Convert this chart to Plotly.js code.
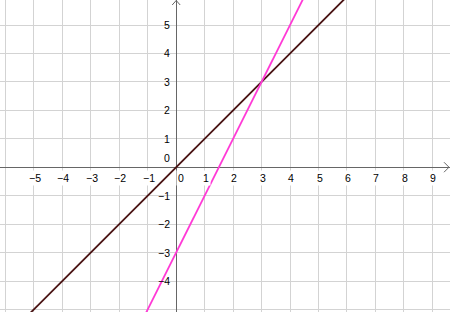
<!DOCTYPE html>
<html><head><meta charset="utf-8">
<script src="https://cdn.plot.ly/plotly-3.0.1.min.js"></script>
<style>html,body{margin:0;padding:0;background:#fff}#c{width:450px;height:312px}</style>
</head><body><div id="c"></div>
<script>
// Line 1: y = x (dark brown)
const line1X = [-6.5, 10];
const line1Y = [-6.5, 10];
// Line 2: y = 2x - 3 (magenta)
const line2X = [-1.5, 5];
const line2Y = [-6, 7];
// Tick labels
const xTicks = [-5, -4, -3, -2, -1, 0, 1, 2, 3, 4, 5, 6, 7, 8, 9];
const yTicks = [-4, -3, -2, -1, 0, 1, 2, 3, 4, 5];

const xRange = [-6.19, 9.62];
const yRange = [-5.09, 5.88];

const fmt = v => v < 0 ? '\u2212' + Math.abs(v) : String(v);
const font = {family: 'Liberation Sans, Arial, sans-serif', size: 10.5, color: '#000'};

const ann = [];
xTicks.forEach(v => {
  ann.push({x: v, y: 0, xref: 'x', yref: 'y', text: fmt(v), showarrow: false,
    xanchor: 'center', yanchor: 'top', yshift: -3, xshift: v === 0 ? 5 : 1,
    bgcolor: '#fff', borderpad: 1, font: font});
});
yTicks.forEach(v => {
  if (v === 0) {
    ann.push({x: 0, y: 0, xref: 'x', yref: 'y', text: '0', showarrow: false,
      xanchor: 'right', yanchor: 'bottom', xshift: -4, yshift: 1, font: font});
  } else {
    ann.push({x: 0, y: v, xref: 'x', yref: 'y', text: fmt(v), showarrow: false,
      xanchor: 'right', yanchor: 'middle', xshift: -4, font: font});
  }
});

const layout = {
  width: 450, height: 312,
  margin: {l: 0, r: 0, t: 0, b: 0},
  paper_bgcolor: '#fff', plot_bgcolor: '#fff',
  showlegend: false,
  xaxis: {range: xRange, dtick: 1, tick0: 0, showticklabels: false, ticks: '',
    showgrid: true, gridcolor: '#d3d3d3', gridwidth: 1,
    zeroline: true, zerolinecolor: '#666', zerolinewidth: 1, fixedrange: true},
  yaxis: {range: yRange, dtick: 1, tick0: 0, showticklabels: false, ticks: '',
    showgrid: true, gridcolor: '#d3d3d3', gridwidth: 1,
    zeroline: true, zerolinecolor: '#666', zerolinewidth: 1, fixedrange: true},
  annotations: ann
};

const traces = [
  {x: line1X, y: line1Y, mode: 'lines', line: {color: '#4a1414', width: 1.8}, hoverinfo: 'skip'},
  {x: line2X, y: line2Y, mode: 'lines', line: {color: '#ff3ad6', width: 1.8}, hoverinfo: 'skip'}
];

Plotly.newPlot('c', traces, layout, {staticPlot: true}).then(gd => {
  // arrowheads at axis ends, placed in pixel space from the axis scales
  const xa = gd._fullLayout.xaxis, ya = gd._fullLayout.yaxis;
  const ox = xa._offset + xa.l2p(0), oy = ya._offset + ya.l2p(0);
  const W = 450;
  const p1 = `M ${W - 6} ${oy - 5} L ${W - 1} ${oy} L ${W - 6} ${oy + 5}`;
  const p2 = `M ${ox - 4} 5 L ${ox} 0.5 L ${ox + 4} 5`;
  Plotly.relayout(gd, {shapes: [
    {type: 'path', xref: 'paper', yref: 'paper', path: toPaper(p1), line: {color: '#666', width: 1}},
    {type: 'path', xref: 'paper', yref: 'paper', path: toPaper(p2), line: {color: '#666', width: 1}}
  ]});
  function toPaper(p) {
    return p.replace(/(-?[\d.]+) (-?[\d.]+)/g, (m, a, b) =>
      (parseFloat(a) / 450).toFixed(5) + ' ' + (1 - parseFloat(b) / 312).toFixed(5));
  }
});
</script></body></html>
